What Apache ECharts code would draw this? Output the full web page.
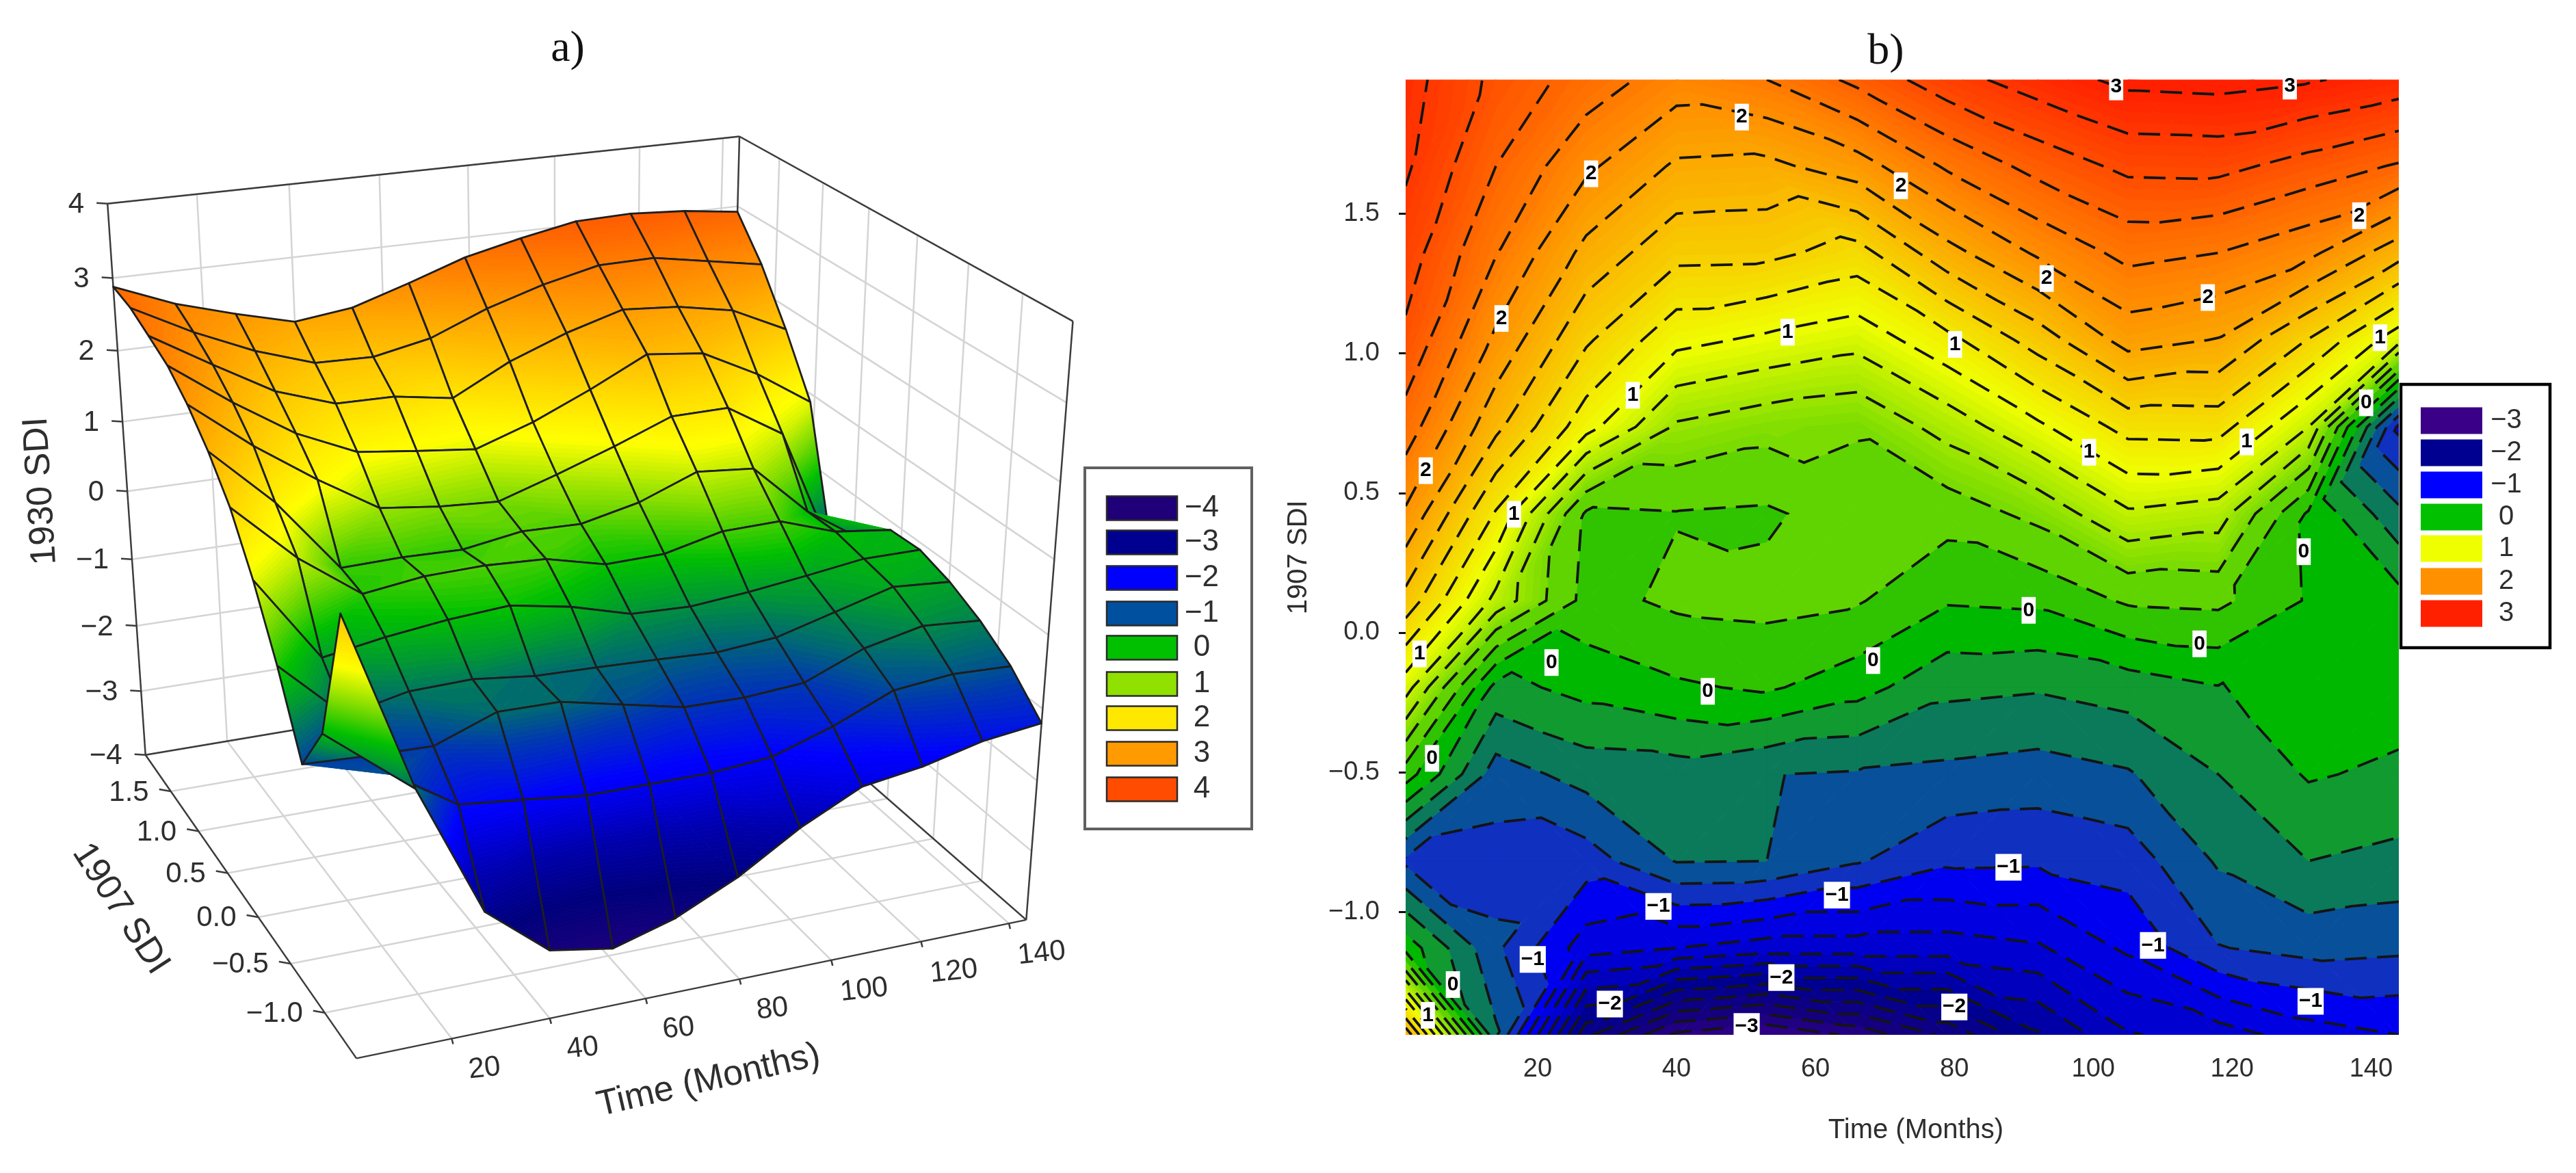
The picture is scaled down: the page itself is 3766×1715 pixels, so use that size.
<!DOCTYPE html>
<html>
<head>
<meta charset="utf-8">
<style>html,body{margin:0;padding:0;background:#fff}#chart{width:3766px;height:1715px}</style>
<script src="https://cdn.jsdelivr.net/npm/echarts@6/dist/echarts.min.js"></script>
</head>
<body>
<div id="chart"></div>
<script>
// ---------- data ----------
const timeMonths = [1, 14, 27, 40, 53, 66, 79, 92, 105, 118, 131, 144];
const sdi1907 = [-1.44, -1.129, -0.818, -0.507, -0.196, 0.115, 0.426, 0.737, 1.048, 1.36, 1.671, 1.98];
const sdi1930_r0  = [1.75, -0.57, -2.35, -3.05, -3.20, -2.95, -2.55, -2.03, -1.62, -1.50, -1.30, -1.20];
const sdi1930_r1  = [-0.08, -0.76, -1.31, -1.40, -1.50, -1.50, -1.50, -1.43, -1.16, -0.81, -0.73, -0.76];
const sdi1930_r2  = [-0.84, -0.88, -0.90, -0.59, -0.60, -0.78, -0.96, -0.97, -0.91, -0.575, -0.40, -0.46];
const sdi1930_r3  = [0.10, -0.70, -0.52, -0.50, -0.595, -0.62, -0.65, -0.69, -0.62, -0.40, -0.18, -0.24];
const sdi1930_r4  = [0.89, -0.27, -0.13, -0.03, 0.03, -0.12, -0.35, -0.38, -0.31, -0.21, -0.10, -0.10];
const sdi1930_r5  = [1.53, 0.74, 0.13, 0.24, 0.26, 0.22, 0.02, 0.04, 0.23, 0.25, -0.02, -0.12];
const sdi1930_r6  = [1.97, 1.18, 0.17, 0.19, 0.17, 0.30, 0.28, 0.46, 0.77, 0.70, -0.03, -0.55];
const sdi1930_r7  = [2.31, 1.65, 1.08, 0.57, 0.47, 0.42, 0.68, 0.96, 1.27, 1.28, 0.80, -1.05];
const sdi1930_r8  = [2.56, 1.96, 1.43, 1.06, 0.96, 0.87, 1.14, 1.49, 1.88, 1.79, 1.39, 0.88];
const sdi1930_r9  = [2.70, 2.21, 1.74, 1.46, 1.45, 1.32, 1.73, 2.03, 2.26, 2.20, 2.05, 1.68];
const sdi1930_r10 = [2.83, 2.40, 2.04, 1.77, 1.75, 1.91, 2.23, 2.47, 2.65, 2.66, 2.52, 2.38];
const sdi1930_r11 = [2.88, 2.55, 2.31, 2.10, 2.20, 2.45, 2.72, 2.90, 3.05, 3.07, 3.02, 2.92];
const surface = [sdi1930_r0, sdi1930_r1, sdi1930_r2, sdi1930_r3, sdi1930_r4, sdi1930_r5,
                 sdi1930_r6, sdi1930_r7, sdi1930_r8, sdi1930_r9, sdi1930_r10, sdi1930_r11];

const timeTicks = [20, 40, 60, 80, 100, 120, 140];
const sdi1907Ticks3d = [-1, -0.5, 0, 0.5, 1, 1.5];
const sdi1930Ticks = [-4, -3, -2, -1, 0, 1, 2, 3, 4];
const contourTicksY = [-1, -0.5, 0, 0.5, 1, 1.5];
const legendLabelsA = ['−4', '−3', '−2', '−1', '0', '1', '2', '3', '4'];
const legendColorsA = ['#1f0078', '#000090', '#0000ff', '#0050a0', '#00c000', '#90e000', '#ffe800', '#ff9a00', '#ff4c00'];
const legendLabelsB = ['−3', '−2', '−1', '0', '1', '2', '3'];
const legendColorsB = ['#3a0088', '#000090', '#0000ff', '#00c000', '#f0ff00', '#ff9000', '#ff2000'];
// contour labels: time, 1907 SDI, text
const contourLabels = [
  [103.3,1.954,'3'],[128.3,1.957,'3'],[49.4,1.846,'2'],[27.7,1.643,'2'],[72.3,1.6,'2'],[138.3,1.493,'2'],
  [93.3,1.268,'2'],[116.5,1.2,'2'],[14.8,1.125,'2'],[56,1.076,'1'],[80.1,1.032,'1'],[141.3,1.056,'1'],
  [33.7,0.85,'1'],[122.1,0.683,'1'],[99.4,0.646,'1'],[3.9,0.58,'2'],[139.3,0.823,'0'],[16.6,0.424,'1'],
  [130.3,0.29,'0'],[90.7,0.08,'0'],[115.3,-0.04,'0'],[3,-0.076,'1'],[22,-0.107,'0'],[68.3,-0.1,'0'],
  [44.5,-0.21,'0'],[4.8,-0.45,'0'],[87.8,-0.84,'−1'],[63.1,-0.94,'−1'],[37.4,-0.98,'−1'],[108.6,-1.12,'−1'],
  [19.3,-1.17,'−1'],[7.8,-1.26,'0'],[55.1,-1.235,'−2'],[131.3,-1.32,'−1'],[30.4,-1.33,'−2'],[80,-1.34,'−2'],
  [4.2,-1.37,'1'],[50.1,-1.41,'−3']
];

// ---------- colour scales ----------
const stopsB = [[-3.3,'#3a0088'],[-2.7,'#14007f'],[-2.1,'#000090'],[-1.6,'#0000c8'],[-1.1,'#0000f0'],[-0.9,'#1030c0'],
  [-0.7,'#08509a'],[-0.5,'#0a7a5a'],[-0.3,'#109a30'],[-0.1,'#00b800'],[0.1,'#30c400'],[0.3,'#60d400'],
  [1,'#f0ff00'],[2,'#ff9000'],[3,'#ff2000']];
const stopsA = [[-3.3,'#20007a'],[-2.6,'#00007c'],[-2.0,'#0000b0'],[-1.4,'#0000ff'],[-0.9,'#0038b0'],
  [-0.6,'#006a70'],[-0.3,'#009a30'],[0,'#00c000'],[0.4,'#70d800'],[1,'#ffff00'],[2,'#ffb000'],[3,'#ff6000'],[4,'#ff4000']];
function hex(c){return [parseInt(c.substr(1,2),16),parseInt(c.substr(3,2),16),parseInt(c.substr(5,2),16)];}
function colourAt(stops, v){
  if(v<=stops[0][0]) return stops[0][1];
  for(let i=1;i<stops.length;i++){
    if(v<=stops[i][0]){
      const a=hex(stops[i-1][1]),b=hex(stops[i][1]),f=(v-stops[i-1][0])/(stops[i][0]-stops[i-1][0]);
      return 'rgb('+a.map((x,k)=>Math.round(x+(b[k]-x)*f)).join(',')+')';
    }
  }
  return stops[stops.length-1][1];
}

// ---------- triangulated grid: each cell is cut along its flatter diagonal ----------
const nT = timeMonths.length, nS = sdi1907.length;
function vertex(i,j){return {t:timeMonths[i],s:sdi1907[j],z:surface[j][i],id:j*nT+i};}
function cellTriangles(i,j){
  const a=vertex(i,j),b=vertex(i+1,j),c=vertex(i+1,j+1),d=vertex(i,j+1);
  return Math.abs(a.z-c.z)<=Math.abs(b.z-d.z) ? [[a,b,c],[a,c,d]] : [[a,b,d],[b,c,d]];
}
function clipAt(poly, level, above){
  const out=[];
  for(let k=0;k<poly.length;k++){
    const p=poly[k],q=poly[(k+1)%poly.length];
    const pi=above?p.z>=level:p.z<=level, qi=above?q.z>=level:q.z<=level;
    if(pi) out.push(p);
    if(pi!==qi){
      const f=(level-p.z)/(q.z-p.z);
      out.push({t:p.t+(q.t-p.t)*f,s:p.s+(q.s-p.s)*f,z:level});
    }
  }
  return out;
}
function bands(tri, breaks){
  const res=[];
  for(let b=0;b<breaks.length-1;b++){
    let poly=clipAt(tri,breaks[b],true);
    if(poly.length<3) continue;
    poly=clipAt(poly,breaks[b+1],false);
    if(poly.length<3) continue;
    res.push({poly,mid:(breaks[b]+breaks[b+1])/2});
  }
  return res;
}
const fillBreaksB=[]; for(let k=-18;k<=2;k++) fillBreaksB.push(k*0.2);
for(let k=1;k<=58;k++) fillBreaksB.push(0.4+k*0.05);
const fillBreaksA=[]; for(let k=-90;k<=100;k++) fillBreaksA.push(k*0.04);

// contour polylines, chained through shared triangle edges
const contourLevels=[]; for(let k=-16;k<=15;k++) contourLevels.push(k*0.2);
function buildContours(){
  const lines=[];
  contourLevels.forEach(level0=>{
    const level=level0+1e-5, adj={}, pos={};
    for(let j=0;j<nS-1;j++)for(let i=0;i<nT-1;i++){
      cellTriangles(i,j).forEach(tri=>{
        const keys=[];
        for(let k=0;k<3;k++){
          const p=tri[k],q=tri[(k+1)%3];
          if((p.z>level)!==(q.z>level)){
            const key=Math.min(p.id,q.id)+'_'+Math.max(p.id,q.id), f=(level-p.z)/(q.z-p.z);
            pos[key]=[p.t+(q.t-p.t)*f,p.s+(q.s-p.s)*f];
            keys.push(key);
          }
        }
        if(keys.length===2){
          (adj[keys[0]]=adj[keys[0]]||[]).push(keys[1]);
          (adj[keys[1]]=adj[keys[1]]||[]).push(keys[0]);
        }
      });
    }
    const used={};
    const walk=start=>{
      const pts=[pos[start]];used[start]=true;let cur=start,go=true;
      while(go){
        go=false;
        for(const n of adj[cur]){ if(!used[n]){used[n]=true;pts.push(pos[n]);cur=n;go=true;break;} }
      }
      if(adj[cur].length===2&&adj[cur].indexOf(start)>=0&&pts.length>2) pts.push(pos[start]);
      lines.push(pts);
    };
    Object.keys(adj).filter(k=>adj[k].length===1).forEach(k=>{if(!used[k])walk(k);});
    Object.keys(adj).forEach(k=>{if(!used[k])walk(k);});
  });
  return lines;
}
const contourLines=buildContours();

// ---------- camera of panel a: solved from the box corners ----------
const cubeCorners=[[0,1,0],[0,1,1],[0,0,0],[1,0,0],[1,0,1],[1,1,0],[1,1,1]];
const cubeOnPage=[[212,1103],[158,298],[521,1548],[1499,1344],[1570,470],[1063,962],[1079,199]];
function solveCamera(){
  const A=[],B=[];
  cubeCorners.forEach((c,k)=>{
    const [X,Y,Z]=c,[x,y]=cubeOnPage[k];
    A.push([X,Y,Z,1,0,0,0,0,-x*X,-x*Y,-x*Z]);B.push(x);
    A.push([0,0,0,0,X,Y,Z,1,-y*X,-y*Y,-y*Z]);B.push(y);
  });
  const n=11,M=[];
  for(let r=0;r<n;r++){
    M.push([]);
    for(let c=0;c<n;c++){let v=0;A.forEach(row=>v+=row[r]*row[c]);M[r].push(v);}
    let v=0;A.forEach((row,k)=>v+=row[r]*B[k]);M[r].push(v);
  }
  for(let c=0;c<n;c++){
    let p=c;for(let r=c+1;r<n;r++)if(Math.abs(M[r][c])>Math.abs(M[p][c]))p=r;
    const tmp=M[c];M[c]=M[p];M[p]=tmp;
    for(let r=0;r<n;r++){
      if(r===c)continue;
      const f=M[r][c]/M[c][c];
      for(let k=c;k<=n;k++)M[r][k]-=f*M[c][k];
    }
  }
  return M.map((row,k)=>row[n]/row[k]);
}
const cam=solveCamera();
const tMin=timeMonths[0],tMax=timeMonths[nT-1],sMin=sdi1907[0],sMax=sdi1907[nS-1];
function project3d(t,s,z){
  const X=(t-tMin)/(tMax-tMin),Y=(s-sMin)/(sMax-sMin),Z=(z+4)/8;
  const w=cam[8]*X+cam[9]*Y+cam[10]*Z+1;
  return [(cam[0]*X+cam[1]*Y+cam[2]*Z+cam[3])/w,(cam[4]*X+cam[5]*Y+cam[6]*Z+cam[7])/w,w];
}

// painter's order: farthest cell first
const surfaceCells=[];
for(let j=0;j<nS-1;j++)for(let i=0;i<nT-1;i++){
  const t=(timeMonths[i]+timeMonths[i+1])/2,s=(sdi1907[j]+sdi1907[j+1])/2;
  const z=(surface[j][i]+surface[j][i+1]+surface[j+1][i]+surface[j+1][i+1])/4;
  surfaceCells.push({i,j,w:project3d(t,s,z)[2]});
}
surfaceCells.sort((a,b)=>b.w-a.w);

// ---------- box lines of panel a ----------
const gridC='#d4d4d4',edgeC='#3c3c3c';
const boxLines=[];
function seg(a,b,c,w){boxLines.push({a,b,c,w});}
const zLo=-4,zHi=4;
timeTicks.forEach(v=>{
  seg([v,sMin,zLo],[v,sMax,zLo],gridC,2.5);
  seg([v,sMax,zLo],[v,sMax,zHi],gridC,2.5);
});
sdi1907Ticks3d.forEach(v=>{
  seg([tMin,v,zLo],[tMax,v,zLo],gridC,2.5);
  seg([tMax,v,zLo],[tMax,v,zHi],gridC,2.5);
});
sdi1930Ticks.forEach(v=>{
  seg([tMin,sMax,v],[tMax,sMax,v],gridC,2.5);
  seg([tMax,sMax,v],[tMax,sMin,v],gridC,2.5);
});
[[[tMin,sMax,zLo],[tMin,sMax,zHi]],[[tMin,sMax,zHi],[tMax,sMax,zHi]],[[tMax,sMax,zHi],[tMax,sMin,zHi]],
 [[tMax,sMin,zHi],[tMax,sMin,zLo]],[[tMax,sMin,zLo],[tMin,sMin,zLo]],[[tMin,sMin,zLo],[tMin,sMax,zLo]],
 [[tMin,sMax,zLo],[tMax,sMax,zLo]],[[tMax,sMax,zLo],[tMax,sMin,zLo]],[[tMax,sMax,zLo],[tMax,sMax,zHi]]]
 .forEach(p=>seg(p[0],p[1],edgeC,2.5));

const textFont='"Liberation Sans", Arial, sans-serif';
const textGrey='#2e2e2e';
const axisTexts=[];
sdi1930Ticks.forEach(v=>axisTexts.push({p:[tMin,sMax,v],dx:-34,dy:2,text:String(v).replace('-','−'),align:'right',size:42,tick:[-16,-1]}));
sdi1907Ticks3d.forEach(v=>axisTexts.push({p:[tMin,v,zLo],dx:-32,dy:2,text:v.toFixed(1).replace('-','−'),align:'right',size:42,tick:[-17,-3]}));
timeTicks.forEach(v=>axisTexts.push({p:[v,sMin,zLo],dx:48,dy:44,text:String(v),align:'center',size:42,rot:6,tick:[2,8]}));

// ---------- custom renderers ----------
function pagePoint(api,p){return api.coord([p[0],p[1]]);}
function renderBox(params,api){
  const l=boxLines[api.value(2)];
  const a=pagePoint(api,project3d(l.a[0],l.a[1],l.a[2])),b=pagePoint(api,project3d(l.b[0],l.b[1],l.b[2]));
  return {type:'line',shape:{x1:a[0],y1:a[1],x2:b[0],y2:b[1]},style:{stroke:l.c,lineWidth:l.w}};
}
function renderSurface(params,api){
  const cell=surfaceCells[api.value(2)],children=[];
  cellTriangles(cell.i,cell.j).forEach(tri=>{
    bands(tri,fillBreaksA).forEach(b=>{
      const fill=colourAt(stopsA,b.mid);
      children.push({type:'polygon',shape:{points:b.poly.map(v=>pagePoint(api,project3d(v.t,v.s,v.z)))},
        style:{fill,stroke:fill,lineWidth:0.9}});
    });
  });
  const q=[vertex(cell.i,cell.j),vertex(cell.i+1,cell.j),vertex(cell.i+1,cell.j+1),vertex(cell.i,cell.j+1)];
  children.push({type:'polygon',shape:{points:q.map(v=>pagePoint(api,project3d(v.t,v.s,v.z)))},
    style:{fill:'none',stroke:'#1e1e1e',lineWidth:2.8,lineJoin:'round'}});
  return {type:'group',children};
}
function renderAxisText(params,api){
  const a=axisTexts[api.value(2)],p=project3d(a.p[0],a.p[1],a.p[2]);
  const c=pagePoint(api,[p[0]+a.dx,p[1]+a.dy]),t0=pagePoint(api,p),t1=pagePoint(api,[p[0]+a.tick[0],p[1]+a.tick[1]]);
  return {type:'group',children:[
    {type:'line',shape:{x1:t0[0],y1:t0[1],x2:t1[0],y2:t1[1]},style:{stroke:edgeC,lineWidth:2.5}},
    {type:'text',x:c[0],y:c[1],rotation:(a.rot||0)*Math.PI/180,originX:0,originY:0,
     style:{text:a.text,fontSize:a.size,fontFamily:textFont,fill:textGrey,align:a.align,verticalAlign:'middle'}}
  ]};
}
const fillCells=[];
for(let j=0;j<nS-1;j++)for(let i=0;i<nT-1;i++)fillCells.push({i,j});
function renderFill(params,api){
  const cell=fillCells[api.value(2)],children=[];
  cellTriangles(cell.i,cell.j).forEach(tri=>{
    bands(tri,fillBreaksB).forEach(b=>{
      const fill=colourAt(stopsB,b.mid);
      children.push({type:'polygon',shape:{points:b.poly.map(v=>api.coord([v.t,v.s]))},
        style:{fill,stroke:fill,lineWidth:0.9}});
    });
  });
  return {type:'group',children};
}
function renderContour(params,api){
  const line=contourLines[api.value(2)];
  return {type:'polyline',shape:{points:line.map(p=>api.coord(p))},
    style:{fill:'none',stroke:'#141414',lineWidth:3.8,lineDash:[32,15]}};
}

// ---------- legends ----------
function legendGraphics(box,boxStroke,boxWidth,labels,colors,rowY,swX,swW,swH,txtX,swStroke,size){
  const g=[{type:'rect',shape:{x:box[0],y:box[1],width:box[2]-box[0],height:box[3]-box[1]},
    style:{fill:'#fff',stroke:boxStroke,lineWidth:boxWidth}}];
  labels.forEach((lab,k)=>{
    g.push({type:'rect',shape:{x:swX,y:rowY[k]-swH/2,width:swW,height:swH},
      style:{fill:colors[k],stroke:swStroke,lineWidth:swStroke==='none'?0:2.5}});
    g.push({type:'text',x:txtX,y:rowY[k],style:{text:lab,fontSize:size,fontFamily:textFont,fill:textGrey,align:'center',verticalAlign:'middle'}});
  });
  return g;
}
const graphics=[].concat(
  legendGraphics([1586,684,1830,1212],'#606060',4,legendLabelsA,legendColorsA,[743,793,845,897,947,1000,1050,1102,1154],1618,103,35,1757,'#2a2a2a',44),
  legendGraphics([3510,562,3728,947],'#000',4.5,legendLabelsB,legendColorsB,[615,662,709,756,802,850,897],3539,90,39,3664,'none',40),
  [
   {type:'text',x:830,y:72,style:{text:'a)',fontSize:64,fontFamily:'"Liberation Serif",serif',fill:'#111',align:'center',verticalAlign:'middle'}},
   {type:'text',x:2757,y:76,style:{text:'b)',fontSize:64,fontFamily:'"Liberation Serif",serif',fill:'#111',align:'center',verticalAlign:'middle'}},
   {type:'text',x:60,y:718,rotation:93.5*Math.PI/180,originX:0,originY:0,style:{text:'1930 SDI',fontSize:52,fontFamily:textFont,fill:textGrey,align:'center',verticalAlign:'middle'}},
   {type:'text',x:176,y:1329,rotation:-57*Math.PI/180,originX:0,originY:0,style:{text:'1907 SDI',fontSize:52,fontFamily:textFont,fill:textGrey,align:'center',verticalAlign:'middle'}},
   {type:'text',x:1036,y:1580,rotation:13*Math.PI/180,originX:0,originY:0,style:{text:'Time (Months)',fontSize:52,fontFamily:textFont,fill:textGrey,align:'center',verticalAlign:'middle'}}
  ]
);

const pageX={type:'value',gridIndex:0,min:0,max:3766,show:false};
const pageY={type:'value',gridIndex:0,min:0,max:1715,inverse:true,show:false};
const chart=echarts.init(document.getElementById('chart'),null,{renderer:'canvas'});
const customBase={type:'custom',silent:true,animation:false,progressive:0,coordinateSystem:'cartesian2d'};
chart.setOption({
  animation:false,
  backgroundColor:'#fff',
  tooltip:{show:false},
  graphic:graphics,
  grid:[
    {left:0,top:0,width:3766,height:1715,containLabel:false},
    {left:2055,top:116.5,width:1452,height:1396.5,containLabel:false}
  ],
  xAxis:[pageX,{
    type:'value',gridIndex:1,min:tMin,max:tMax,
    name:'Time (Months)',nameLocation:'middle',nameGap:120,nameTextStyle:{fontSize:40,fontFamily:textFont,color:textGrey,padding:[0,0,0,40]},
    axisLine:{show:false},splitLine:{show:false},
    axisTick:{show:true,length:13,lineStyle:{color:'#111',width:3},customValues:timeTicks},
    axisLabel:{fontSize:38,fontFamily:textFont,color:textGrey,margin:32,customValues:timeTicks}
  }],
  yAxis:[pageY,{
    type:'value',gridIndex:1,min:sMin,max:sMax,
    name:'1907 SDI',nameLocation:'middle',nameGap:136,nameTextStyle:{fontSize:40,fontFamily:textFont,color:textGrey},
    axisLine:{show:false},splitLine:{show:false},
    axisTick:{show:true,length:10,lineStyle:{color:'#111',width:3},customValues:contourTicksY},
    axisLabel:{fontSize:38,fontFamily:textFont,color:textGrey,margin:38,customValues:contourTicksY,
      formatter:v=>Number(v).toFixed(1).replace('-','−')}
  }],
  series:[
    Object.assign({},customBase,{xAxisIndex:0,yAxisIndex:0,clip:false,renderItem:renderBox,
      data:boxLines.map((l,k)=>[0,0,k])}),
    Object.assign({},customBase,{xAxisIndex:0,yAxisIndex:0,clip:false,renderItem:renderSurface,
      data:surfaceCells.map((c,k)=>[0,0,k])}),
    Object.assign({},customBase,{xAxisIndex:0,yAxisIndex:0,clip:false,renderItem:renderAxisText,
      data:axisTexts.map((a,k)=>[0,0,k])}),
    Object.assign({},customBase,{xAxisIndex:1,yAxisIndex:1,clip:true,renderItem:renderFill,
      data:fillCells.map((c,k)=>[timeMonths[c.i],sdi1907[c.j],k])}),
    Object.assign({},customBase,{xAxisIndex:1,yAxisIndex:1,clip:true,renderItem:renderContour,
      data:contourLines.map((l,k)=>[l[0][0],l[0][1],k])}),
    {type:'scatter',xAxisIndex:1,yAxisIndex:1,silent:true,animation:false,symbolSize:1,itemStyle:{color:'rgba(0,0,0,0)',opacity:1},
      clip:false,z:5,data:contourLabels,
      label:{show:true,opacity:1,position:'inside',formatter:p=>p.value[2],backgroundColor:'#ffffff',color:'#000',fontWeight:'bold',
        fontSize:30,lineHeight:30,fontFamily:textFont,padding:[5,2,4,2]},labelLayout:{hideOverlap:false}}
  ]
});
</script>
</body>
</html>
